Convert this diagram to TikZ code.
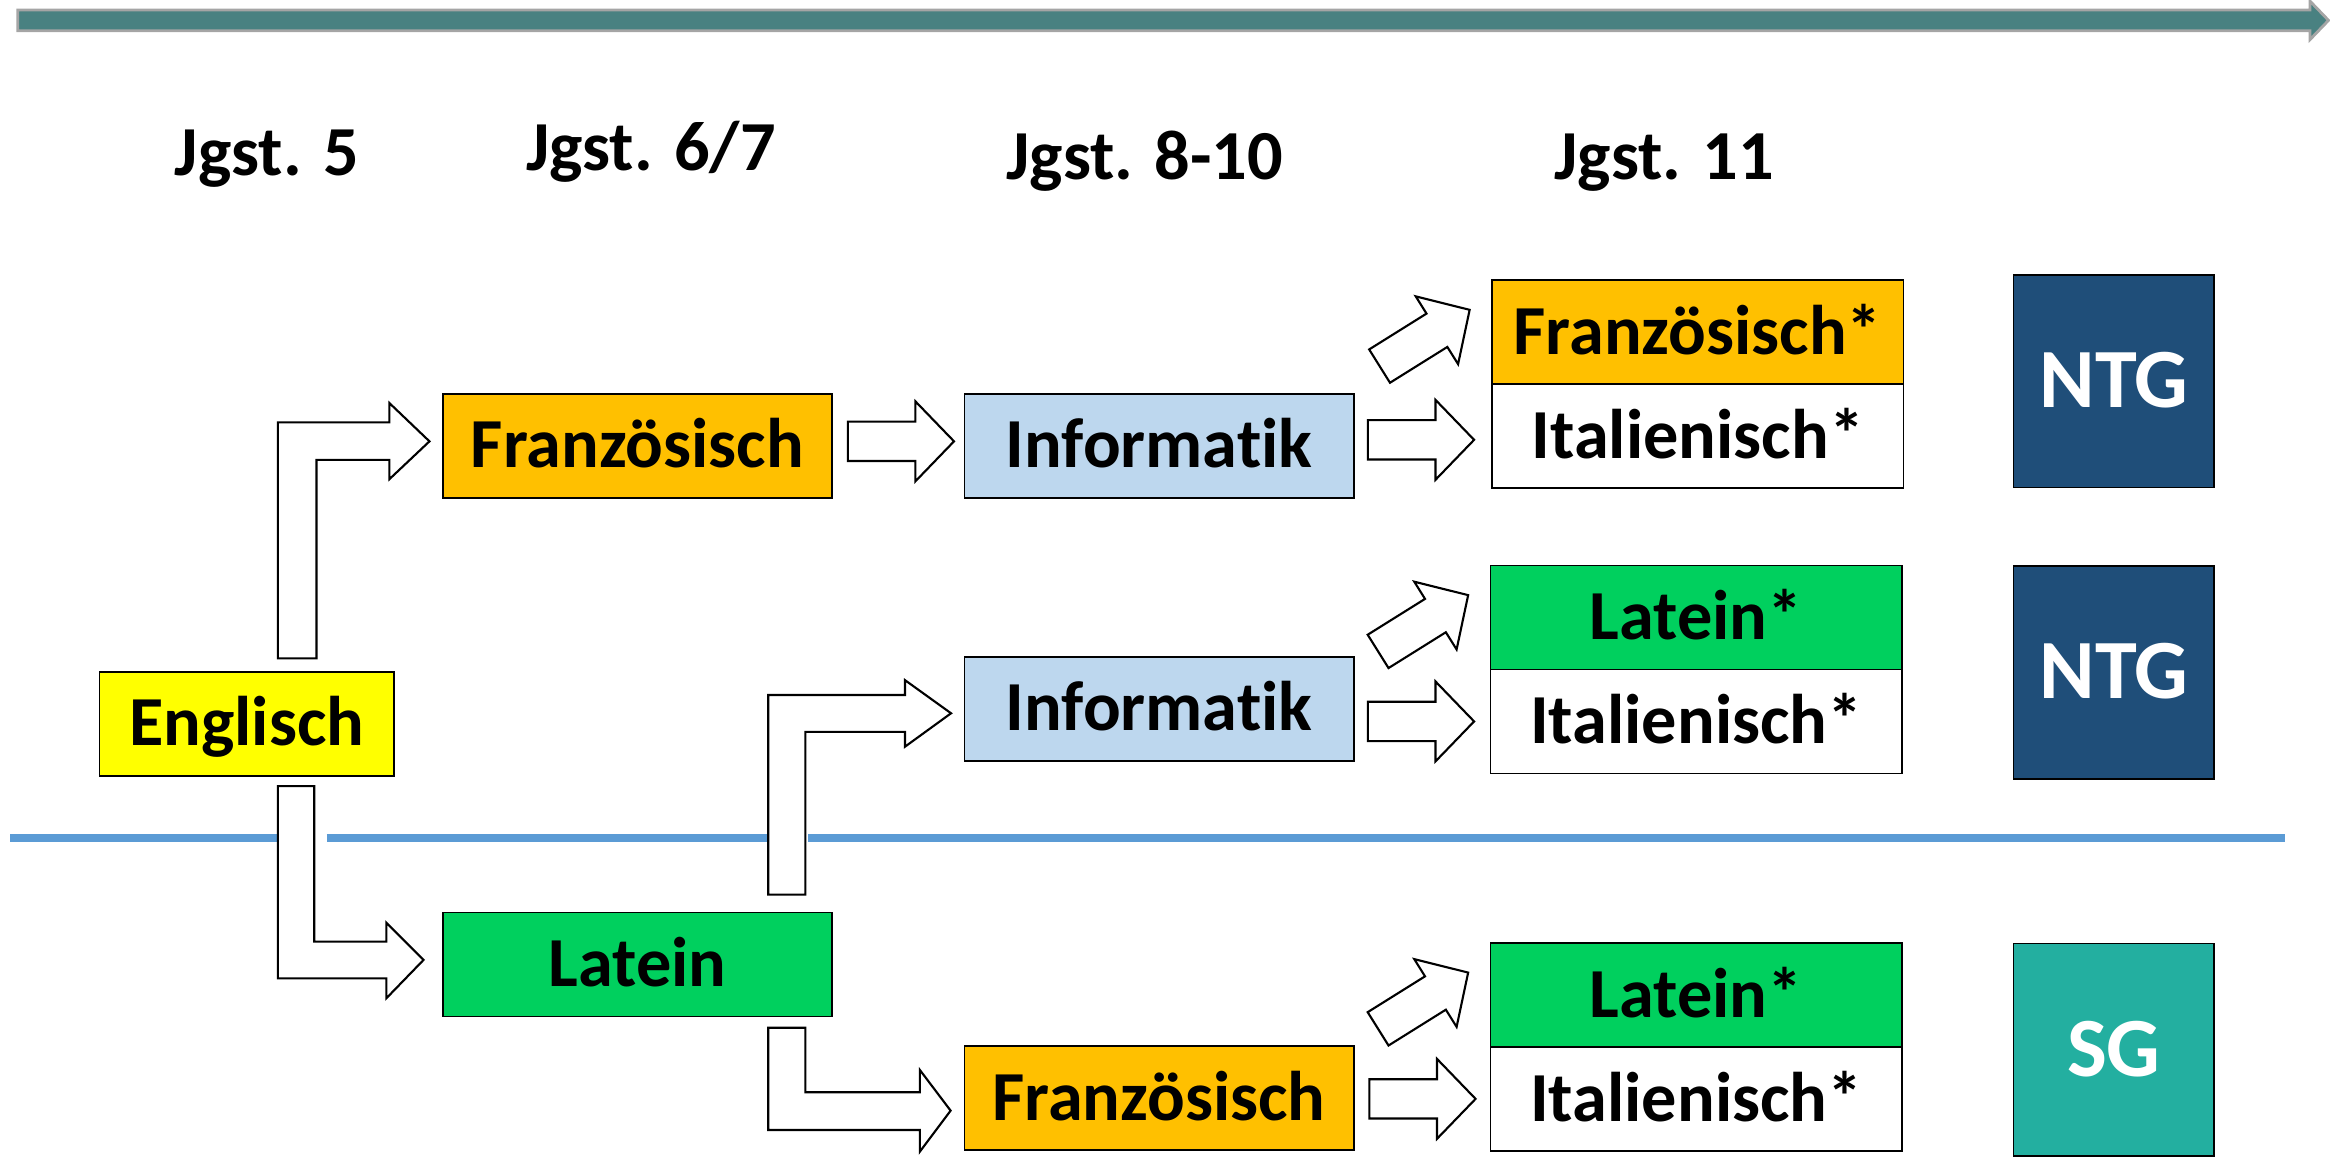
\documentclass[tikz,border=0pt]{standalone}
\usepackage{fontspec}
\setmainfont{Carlito}[Ligatures=NoCommon]
\usetikzlibrary{shapes.arrows,positioning,calc}

\definecolor{gelb}{RGB}{255,255,0}
\definecolor{orangefr}{RGB}{255,192,0}
\definecolor{hellblau}{RGB}{189,215,238}
\definecolor{gruen}{RGB}{0,208,94}
\definecolor{ntgblau}{RGB}{31,78,121}
\definecolor{sgtuerkis}{RGB}{35,175,160}
\definecolor{linieblau}{RGB}{91,155,213}
\definecolor{zeitgruen}{RGB}{73,129,129}
\definecolor{zeitgrau}{RGB}{165,165,165}

\begin{document}
\begin{tikzpicture}[x=0.1486mm,y=-0.1486mm,
fach/.style={
% The shape:
rectangle,
minimum width=38.93mm, minimum height=10.4mm,
inner sep=0pt, outer sep=0pt,
% The rest
draw=black, line width=0.5pt,
font=\fontsize{20}{24}\selectfont\bfseries,
text height=12.6pt, text depth=0pt},
wahl/.style={fach, minimum width=41.16mm},
zweig/.style={
rectangle,
minimum width=20.06mm, minimum height=21.25mm,
inner sep=0pt, outer sep=0pt,
draw=black, line width=0.5pt, text=white,
font=\fontsize{24}{28}\selectfont\bfseries,
text height=15.1pt, text depth=0pt},
stufe/.style={anchor=base, inner sep=0pt,
font=\fontsize{20}{24}\selectfont\bfseries},
pfeil/.style={
single arrow, anchor=tip,
minimum height=10.62mm, text height=3.72mm, text depth=0pt,
single arrow head extend=2.03mm, single arrow tip angle=92,
inner sep=0pt, outer sep=0pt,
draw=black, fill=white, line width=0.6pt},
knick/.style={draw=black, fill=white, line width=0.6pt}]

\useasboundingbox (0,0) rectangle (1568,780);

% Zeitleiste oben
\draw[fill=zeitgruen, draw=zeitgrau, line width=0.8pt]
(12,6.7) -- (1554.5,6.7) -- (1554.5,0.7) -- (1567,13.7)
-- (1554.5,26.7) -- (1554.5,20.7) -- (12,20.7) -- cycle;

% Trennlinie NTG / SG
\draw[linieblau, line width=2.45pt]
(7,564) -- (187,564) (220,564) -- (517,564) (544,564) -- (1538,564);

% Jahrgangsstufen
\node (j5) [stufe] at (179.5,117.8) {Jgst. 5};
\node (j67) [stufe] at (438,114.4) {Jgst. 6/7};
\node (j810) [stufe] at (770.4,121) {Jgst. 8-10};
\node (j11) [stufe] at (1120,121) {Jgst. 11};

% Faecher
\node (en) [fach, fill=gelb, minimum width=29.42mm] at (166,487) {Englisch};
\node (fr1) [fach, fill=orangefr] at (429,300) {Französisch};
\node (la1) [fach, fill=gruen] at (429,649) {Latein};
\node (inf1) [fach, fill=hellblau] at (780,300) {Informatik};
\node (inf2) [fach, fill=hellblau] at (780,477) {Informatik};
\node (fr2) [fach, fill=orangefr] at (780,739) {Französisch};

\node (fr11) [wahl, fill=orangefr] at (1142.5,223.5) {Französisch*};
\node (it11) [wahl, fill=white, below=0mm of fr11] {Italienisch*};
\node (la12) [wahl, fill=gruen] at (1141.5,415.5) {Latein*};
\node (it12) [wahl, fill=white, below=0mm of la12] {Italienisch*};
\node (la13) [wahl, fill=gruen] at (1141.5,669.5) {Latein*};
\node (it13) [wahl, fill=white, below=0mm of la13] {Italienisch*};

\node (ntg1) [zweig, fill=ntgblau] at (1422.5,256.5) {NTG};
\node (ntg2) [zweig, fill=ntgblau] at (1422.5,452.5) {NTG};
\node (sg) [zweig, fill=sgtuerkis] at (1422.5,706.5) {SG};

% gerade Pfeile
\node (p1) [pfeil] at ($(inf1.west)+(-7,-3)$) {};
\node (p2) [pfeil] at ($(it11.west)+(-12,2.5)$) {};
\node (p3) [pfeil, rotate=32] at ($(fr11.south west)+(-15,-50)$) {};
\node (p4) [pfeil] at ($(it12.west)+(-11,0)$) {};
\node (p5) [pfeil, rotate=32] at ($(la12.south west)+(-15,-50)$) {};
\node (p6) [pfeil] at ($(it13.west)+(-10,0)$) {};
\node (p7) [pfeil, rotate=32] at ($(la13.south west)+(-15,-50)$) {};

% Knickpfeile
\draw[knick] ($(en.north)+(21,-9)$) |- ($(fr1.west)+(-36,-15.8)$) -- ++(0,-13)
-- ($(fr1.west)+(-9,-3)$) -- ++(-27,25.5) -- ++(0,-13) -| ($(en.north)+(47,-9)$) -- cycle;
\draw[knick] ($(en.south)+(21,7)$) |- ($(la1.west)+(-38,9.4)$) -- ++(0,13.4)
-- ($(la1.west)+(-13,-3)$) -- ++(-25,-25.1) -- ++(0,12.8) -| ($(en.south)+(45.5,7)$) -- cycle;
\draw[knick] ($(la1.north)+(88,-12)$) |- ($(inf2.west)+(-40,-9.3)$) -- ++(0,-10)
-- ($(inf2.west)+(-9,3)$) -- ++(-31,22.5) -- ++(0,-10) -| ($(la1.north)+(113,-12)$) -- cycle;
\draw[knick] ($(la1.south)+(88,7.6)$) |- ($(fr2.west)+(-30,21.4)$) -- ++(0,14.6)
-- ($(fr2.west)+(-9.3,8.4)$) -- ++(-20.7,-27.4) -- ++(0,15) -| ($(la1.south)+(113,7.6)$) -- cycle;

\end{tikzpicture}
\end{document}
